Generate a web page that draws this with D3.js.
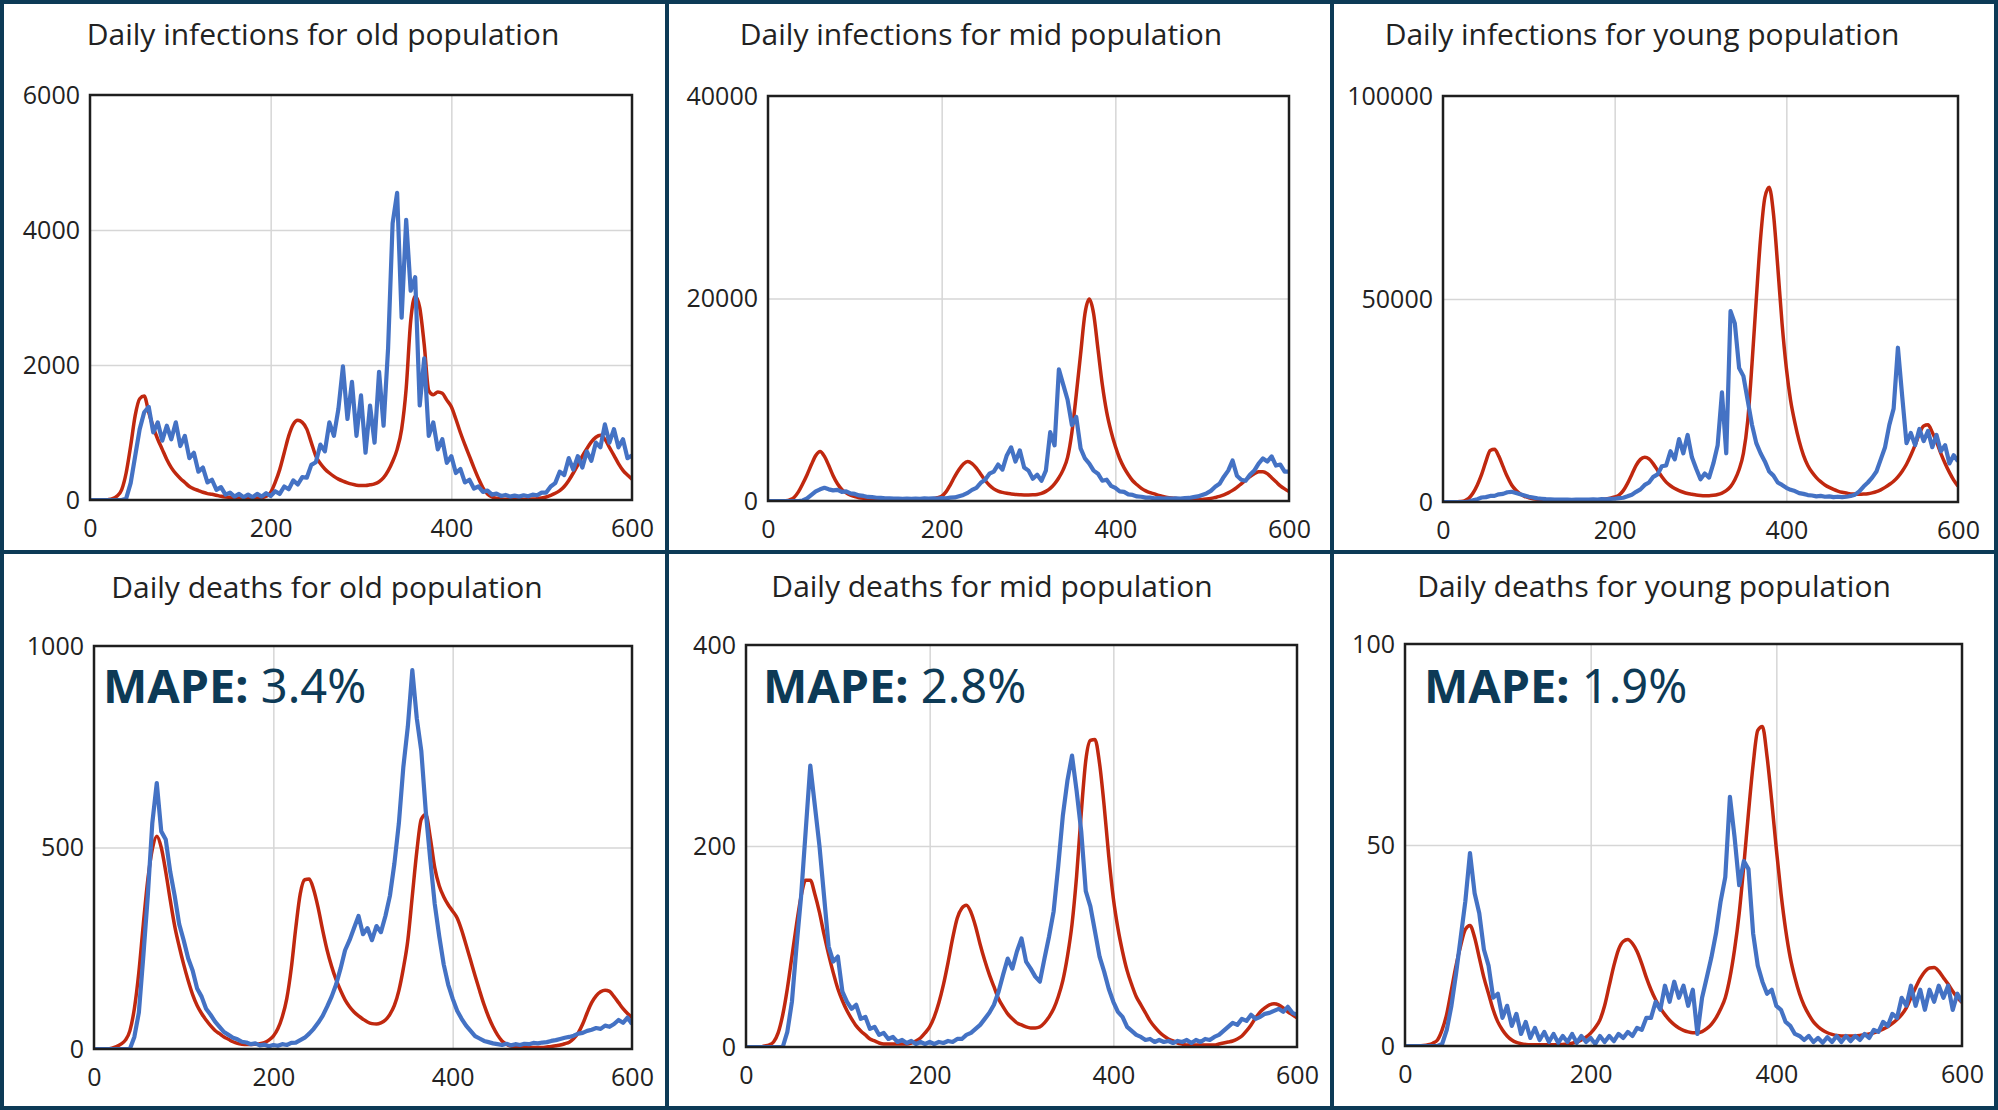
<!DOCTYPE html>
<html>
<head>
<meta charset="utf-8">
<script src="https://cdn.jsdelivr.net/npm/d3@7"></script>
<style>
  body { margin: 0; background: #fff; }
  svg { display: block; }
</style>
</head>
<body>
<svg id="chart" width="1998" height="1110"></svg>
<script>
// one value every 5 days, day 0 to day 600
var dayStep = 5;
var xTicks = [0, 200, 400, 600];

var titles = [
  "Daily infections for old population",
  "Daily infections for mid population",
  "Daily infections for young population",
  "Daily deaths for old population",
  "Daily deaths for mid population",
  "Daily deaths for young population"
];
var yMaxes = [6000, 40000, 100000, 1000, 400, 100];
var yTicks = [
  [0, 2000, 4000, 6000],
  [0, 20000, 40000],
  [0, 50000, 100000],
  [0, 500, 1000],
  [0, 200, 400],
  [0, 50, 100]
];
var mapeValues = [null, null, null, "3.4%", "2.8%", "1.9%"];

// model (red) and observed (blue) series
var modelOldInf = [
  0, 0, 0, 0, 5, 20, 60, 150, 400, 800,
  1250, 1500, 1540, 1300, 1080, 900, 750, 600, 480, 390,
  320, 260, 200, 165, 140, 115, 95, 85, 70, 55,
  45, 40, 35, 30, 30, 30, 30, 30, 35, 55,
  110, 260, 450, 700, 950, 1120, 1180, 1150, 1050, 850,
  650, 540, 460, 400, 350, 310, 280, 255, 235, 220,
  215, 215, 225, 240, 270, 330, 430, 570, 750, 1050,
  1650, 2650, 3020, 2850, 2300, 1620, 1560, 1600, 1580, 1480,
  1380, 1200, 1000, 820, 650, 480, 320, 180, 90, 45,
  25, 15, 10, 10, 10, 10, 10, 12, 15, 20,
  30, 45, 70, 100, 140, 200, 290, 400, 520, 650,
  760, 860, 930, 960, 900, 780, 660, 540, 440, 370,
  310
];
var dataOldInf = [
  0, 0, 0, 0, 0, 0, 0, 0, 20, 250,
  650, 1050, 1300, 1380, 1000, 1150, 880, 1100, 900, 1150,
  800, 950, 620, 700, 420, 480, 260, 300, 150, 190,
  80, 110, 50, 90, 40, 80, 40, 90, 50, 100,
  60, 130, 90, 200, 160, 290, 230, 340, 330, 520,
  560, 820, 720, 1150, 950, 1350, 1980, 1200, 1750, 950,
  1550, 700, 1400, 850, 1900, 1100, 2250, 4100, 4550, 2700,
  4150, 3100, 3300, 1400, 2100, 950, 1150, 750, 900, 550,
  650, 400, 460, 260, 300, 170, 200, 120, 140, 80,
  95, 60, 75, 50, 65, 50, 70, 55, 80, 70,
  110, 110, 200, 250, 420, 370, 620, 450, 650, 480,
  720, 580, 850, 780, 1120, 850, 1050, 780, 900, 620,
  660
];
var modelMidInf = [
  0, 0, 0, 0, 30, 120, 350, 900, 1700, 2600,
  3600, 4500, 4900, 4400, 3500, 2500, 1700, 1150, 800, 580,
  430, 330, 260, 210, 170, 140, 120, 100, 90, 80,
  80, 80, 80, 80, 90, 100, 120, 160, 230, 330,
  480, 900, 1600, 2400, 3100, 3650, 3900, 3700, 3250, 2650,
  2050, 1550, 1200, 980, 850, 760, 700, 650, 620, 600,
  600, 610, 650, 750, 950, 1250, 1700, 2300, 3100, 4300,
  6800, 10500, 14500, 18500, 19950, 18500, 15000, 11500, 8800, 6900,
  5400, 4200, 3300, 2600, 2000, 1600, 1250, 1000, 820, 700,
  550, 450, 360, 300, 250, 200, 180, 160, 150, 150,
  160, 200, 260, 350, 450, 600, 800, 1050, 1350, 1700,
  2050, 2400, 2700, 2880, 2900, 2700, 2300, 1900, 1500, 1200,
  950
];
var dataMidInf = [
  0, 0, 0, 0, 0, 0, 0, 0, 50, 250,
  600, 950, 1150, 1300, 1150, 1050, 1100, 900, 950, 750,
  700, 550, 500, 400, 380, 320, 300, 260, 250, 230,
  240, 220, 230, 220, 240, 220, 250, 230, 260, 240,
  280, 270, 330, 350, 480, 600, 800, 1100, 1300, 1800,
  2100, 2700, 2900, 3600, 3100, 4500, 5300, 3900, 5000, 3300,
  3000, 2200, 2600, 2000, 3000, 6800, 5500, 13000, 11500, 10000,
  7500, 8300, 5200, 4200, 3700, 3000, 2700, 2000, 2100, 1500,
  1300, 950, 900, 650, 600, 450, 420, 330, 330, 270,
  280, 240, 260, 230, 260, 240, 290, 300, 380, 450,
  600, 750, 1000, 1400, 1700, 2400, 3000, 4000, 2500, 2100,
  2000, 2600, 3000, 3700, 4200, 3900, 4400, 3500, 3600, 2900,
  2900
];
var modelYoungInf = [
  0, 0, 0, 0, 100, 300, 900, 2200, 4200, 6800,
  10000, 12700, 13000, 11300, 8700, 6200, 4200, 2900, 2000, 1400,
  1050, 800, 650, 550, 500, 450, 420, 400, 400, 400,
  400, 400, 400, 400, 420, 450, 500, 600, 750, 950,
  1250, 1700, 2800, 4600, 6800, 9000, 10500, 11000, 10600, 9400,
  7800, 6200, 4900, 4000, 3300, 2800, 2400, 2100, 1900, 1700,
  1600, 1550, 1550, 1650, 1850, 2200, 2800, 3800, 5500, 8000,
  12000, 20000, 34000, 50000, 65000, 75000, 77500, 71000, 58000, 44000,
  33000, 25000, 19500, 15000, 11500, 9000, 7300, 6000, 5000, 4200,
  3600, 3100, 2700, 2400, 2200, 2000, 1950, 1900, 1950, 2050,
  2250, 2550, 3000, 3600, 4300, 5100, 6200, 7600, 9300, 11500,
  14000, 16800, 18700, 19000, 17200, 14800, 12000, 9500, 7300, 5400,
  3900
];
var dataYoungInf = [
  0, 0, 0, 0, 0, 0, 100, 400, 700, 1100,
  1200, 1500, 1500, 1900, 2000, 2400, 2500, 2200, 1900, 1600,
  1300, 1100, 900, 800, 700, 650, 600, 620, 580, 600,
  560, 600, 580, 620, 600, 650, 620, 700, 680, 750,
  800, 950, 1050, 1400, 1800, 2500, 3100, 4200, 4800, 6200,
  6800, 8800, 9000, 12500, 10500, 15500, 12000, 16500, 11000, 8200,
  5600, 7000, 6000, 9500, 14000, 27000, 12000, 47000, 44000, 33000,
  31000, 25000, 19000, 14500, 12000, 10000, 7500, 6500, 4800, 4200,
  3500, 3000, 2700, 2200, 2000, 1700, 1600, 1400, 1500, 1300,
  1400, 1200, 1300, 1200, 1300, 1500, 1800, 2600, 3800, 4800,
  6000, 7500, 10500, 13500, 19000, 23000, 38000, 26000, 14500, 17000,
  14000, 18000, 15000, 17500, 13500, 16500, 12500, 14000, 9500, 11500,
  10000
];
var modelOldDeath = [
  0, 0, 0, 0, 2, 6, 12, 22, 45, 100,
  190, 310, 420, 495, 528, 500, 440, 370, 305, 255,
  210, 170, 135, 108, 88, 72, 58, 46, 38, 30,
  24, 18, 14, 12, 11, 11, 12, 13, 16, 22,
  32, 50, 80, 125, 200, 300, 385, 420, 422, 395,
  350, 295, 245, 205, 172, 145, 122, 105, 92, 82,
  74, 67, 63, 62, 65, 72, 86, 108, 145, 200,
  270, 380, 490, 570, 582, 525, 450, 405, 378, 358,
  342, 325, 295, 258, 220, 182, 145, 110, 80, 55,
  35, 20, 12, 7, 5, 4, 4, 4, 4, 4,
  4, 5, 6, 8, 10, 13, 17, 26, 40, 62,
  90, 115, 132, 142, 146, 143, 130, 115, 100, 88,
  78
];
var dataOldDeath = [
  0, 0, 0, 0, 0, 0, 0, 0, 0, 30,
  90, 230, 380, 560, 660, 540, 520, 440, 380, 310,
  270, 225, 195, 150, 130, 100, 85, 68, 55, 42,
  35, 28, 24, 18, 16, 12, 14, 9, 11, 7,
  10, 8, 12, 10, 15, 16, 22, 28, 38, 50,
  65, 82, 105, 130, 160, 200, 245, 270, 300, 330,
  285, 300, 270, 305, 290, 330, 380, 460, 560, 700,
  800, 940, 820, 740, 590, 470, 360, 280, 210, 160,
  125, 95, 75, 58, 45, 32, 26, 20, 17, 14,
  12, 10, 13, 9, 12, 10, 13, 12, 15, 14,
  16, 17, 20, 22, 25, 28, 30, 33, 38, 40,
  45, 48, 52, 50, 58, 55, 62, 72, 65, 78,
  62
];
var modelMidDeath = [
  0, 0, 0, 0, 1, 2, 5, 14, 32, 58,
  90, 122, 150, 166, 166, 152, 134, 112, 92, 74,
  58, 46, 36, 28, 21, 16, 12, 8, 6, 4,
  3, 3, 3, 3, 3, 3, 4, 6, 9, 14,
  20, 30, 44, 62, 84, 108, 128, 138, 141, 134,
  120, 102, 86, 72, 60, 48, 40, 33, 28, 24,
  22, 20, 19, 19, 20, 24, 30, 38, 50, 66,
  90, 122, 170, 232, 285, 305, 306, 282, 240, 190,
  148, 118, 95, 76, 62, 50, 42, 34, 26, 20,
  15, 11, 8, 6, 4, 3, 2, 2, 2, 2,
  2, 2, 2, 3, 4, 5, 6, 8, 11, 16,
  22, 29, 35, 39, 42, 43, 42, 39, 35, 32,
  29
];
var dataMidDeath = [
  0, 0, 0, 0, 0, 0, 0, 0, 0, 15,
  45, 100, 150, 215, 280, 240, 200, 150, 100, 85,
  90, 55, 45, 38, 42, 28, 30, 18, 20, 12,
  14, 8, 10, 5, 7, 4, 6, 3, 5, 3,
  5, 3, 5, 4, 6, 5, 8, 8, 12, 14,
  18, 22, 28, 34, 42, 55, 72, 88, 78, 95,
  108, 85, 78, 70, 65, 88, 110, 135, 180, 230,
  265, 290, 255, 215, 155, 140, 115, 90, 75, 58,
  45, 35, 30, 20, 16, 12, 10, 7, 8, 5,
  7, 5, 6, 4, 6, 5, 7, 4, 7, 5,
  8, 7, 10, 12, 16, 20, 24, 22, 28, 26,
  32, 28, 30, 33, 34, 36, 38, 35, 40, 34,
  32
];
var modelYoungDeath = [
  0, 0, 0, 0, 0.1, 0.3, 0.7, 1.5, 4, 8,
  14, 20, 25, 29, 30, 27, 22, 17, 13, 9,
  6, 4, 2.5, 1.5, 0.9, 0.6, 0.4, 0.3, 0.3, 0.3,
  0.3, 0.3, 0.3, 0.3, 0.4, 0.5, 0.7, 1, 1.5, 2.2,
  3.2, 4.6, 6.5, 10, 15, 20, 24, 26, 26.5, 25.5,
  23.5, 20.5, 17, 14, 11.5, 9.5, 7.8, 6.4, 5.3, 4.5,
  3.9, 3.5, 3.3, 3.3, 3.6, 4.3, 5.4, 7, 9.2, 12,
  17, 24, 33, 45, 58, 70, 78.5, 79.5, 72, 61,
  49, 38, 29, 22, 17, 13, 10, 7.8, 6, 4.8,
  3.9, 3.3, 2.9, 2.6, 2.5, 2.5, 2.5, 2.5, 2.6, 2.8,
  3, 3.3, 3.7, 4.2, 4.8, 5.6, 6.6, 7.8, 9.5, 12,
  14.5, 16.8, 18.5, 19.4, 19.5, 18.6, 17, 15.4, 13.6, 12,
  10.8
];
var dataYoungDeath = [
  0, 0, 0, 0, 0, 0, 0, 0, 0.5, 4,
  10, 18, 27, 36, 48, 38, 33, 24, 20, 12,
  13, 7, 10, 5, 8, 3, 6, 2, 4.5, 1.5,
  3.5, 1, 3, 0.8, 2.5, 1, 3, 0.8, 2.5, 1,
  2, 0.5, 2.5, 1, 2.5, 1.2, 3, 2, 3.5, 2.5,
  4.5, 4, 7, 7, 11, 9, 15, 11, 16, 12,
  15, 10, 14, 3, 12, 17, 22, 28, 36, 42,
  62, 52, 40, 46, 44, 28, 20, 16, 13, 14,
  10, 9, 6, 5, 3, 2.5, 1.5, 2.5, 1, 2,
  0.8, 2.2, 1, 2.5, 1, 2.5, 1.2, 2.5, 1.5, 3,
  2, 4, 3.5, 6, 5, 8, 7, 12, 10, 15,
  10, 14, 9, 14, 11, 15, 12, 15, 9, 13,
  11
];

var models = [modelOldInf, modelMidInf, modelYoungInf, modelOldDeath, modelMidDeath, modelYoungDeath];
var observed = [dataOldInf, dataMidInf, dataYoungInf, dataOldDeath, dataMidDeath, dataYoungDeath];

// layout: plot frame [left, top, right, bottom], title centre, MAPE position
var panels = [
  { frame: [90, 95, 632, 500], titleX: 323, titleY: 45 },
  { frame: [768, 96, 1289, 501], titleX: 981, titleY: 45 },
  { frame: [1443, 96, 1958, 502], titleX: 1642, titleY: 45 },
  { frame: [94, 646, 632, 1049], titleX: 327, titleY: 598, mapeX: 103, mapeY: 703 },
  { frame: [746, 645, 1297, 1047], titleX: 992, titleY: 597, mapeX: 763, mapeY: 703 },
  { frame: [1405, 644, 1962, 1046], titleX: 1654, titleY: 597, mapeX: 1424, mapeY: 703 }
];

var navy = "#0d3a56";
var textColor = "#222";
var redColor = "#c0280f";
var blueColor = "#4472c4";

var svg = d3.select("#chart");

// outer border and dividers
svg.append("rect")
    .attr("x", 2)
    .attr("y", 2)
    .attr("width", 1994)
    .attr("height", 1106)
    .attr("fill", "#fff")
    .attr("stroke", navy)
    .attr("stroke-width", 4);

[[667, 2, 667, 1108], [1332, 2, 1332, 1108], [2, 552, 1996, 552]].forEach(l => {
  svg.append("line")
      .attr("x1", l[0]).attr("y1", l[1])
      .attr("x2", l[2]).attr("y2", l[3])
      .attr("stroke", navy)
      .attr("stroke-width", 4);
});

panels.forEach((p, i) => drawPanel(p, i));

function drawPanel(p, i) {
  var f = p.frame;
  var g = svg.append("g");

  // scales
  var xScale =
    d3.scaleLinear()
      .domain([0, 600])
      .range([f[0], f[2]]);

  var yScale =
    d3.scaleLinear()
      .domain([0, yMaxes[i]])
      .range([f[3], f[1]]);

  // gridlines
  g.append("g")
      .attr("transform", `translate(0, ${f[3]})`)
      .call(
        d3.axisBottom(xScale)
          .tickValues(xTicks.slice(1, -1))
          .tickSize(-(f[3] - f[1]))
          .tickFormat("")
      )
      .call(s => s.select(".domain").remove())
    .selectAll("line")
      .attr("stroke", "#d6d6d6")
      .attr("stroke-width", 1.5);

  g.append("g")
      .attr("transform", `translate(${f[0]}, 0)`)
      .call(
        d3.axisLeft(yScale)
          .tickValues(yTicks[i].slice(1, -1))
          .tickSize(-(f[2] - f[0]))
          .tickFormat("")
      )
      .call(s => s.select(".domain").remove())
    .selectAll("line")
      .attr("stroke", "#d6d6d6")
      .attr("stroke-width", 1.5);

  // series
  var clipId = "plot-clip-" + i;
  g.append("clipPath")
      .attr("id", clipId)
    .append("rect")
      .attr("x", f[0])
      .attr("y", f[1])
      .attr("width", f[2] - f[0])
      .attr("height", f[3] - f[1]);

  var line =
    d3.line()
      .x((d, j) => xScale(j * dayStep))
      .y(d => yScale(d));

  g.append("path")
      .datum(models[i])
      .attr("clip-path", `url(#${clipId})`)
      .attr("fill", "none")
      .attr("stroke", redColor)
      .attr("stroke-width", 3.5)
      .attr("stroke-linejoin", "round")
      .attr("d", line.curve(d3.curveMonotoneX));

  g.append("path")
      .datum(observed[i])
      .attr("clip-path", `url(#${clipId})`)
      .attr("fill", "none")
      .attr("stroke", blueColor)
      .attr("stroke-width", 4.2)
      .attr("stroke-linejoin", "round")
      .attr("d", line.curve(d3.curveLinear));

  // plot frame
  g.append("rect")
      .attr("x", f[0])
      .attr("y", f[1])
      .attr("width", f[2] - f[0])
      .attr("height", f[3] - f[1])
      .attr("fill", "none")
      .attr("stroke", "#1e1e1e")
      .attr("stroke-width", 2.5);

  // axis labels
  g.append("g")
      .attr("transform", `translate(0, ${f[3]})`)
      .call(
        d3.axisBottom(xScale)
          .tickValues(xTicks)
          .tickSize(0)
          .tickPadding(19)
          .tickFormat(d3.format("d"))
      )
      .call(s => s.select(".domain").remove())
      .attr("font-family", "'Open Sans', sans-serif")
      .attr("font-size", 25)
    .selectAll("text")
      .attr("fill", textColor);

  g.append("g")
      .attr("transform", `translate(${f[0]}, 0)`)
      .call(
        d3.axisLeft(yScale)
          .tickValues(yTicks[i])
          .tickSize(0)
          .tickPadding(10)
          .tickFormat(d3.format("d"))
      )
      .call(s => s.select(".domain").remove())
      .attr("font-family", "'Open Sans', sans-serif")
      .attr("font-size", 25)
    .selectAll("text")
      .attr("fill", textColor);

  // title
  g.append("text")
      .text(titles[i])
      .attr("x", p.titleX)
      .attr("y", p.titleY)
      .attr("text-anchor", "middle")
      .attr("font-family", "'Open Sans', sans-serif")
      .attr("font-size", 30)
      .attr("fill", textColor);

  // MAPE annotation
  if (mapeValues[i]) {
    var mape =
      g.append("text")
        .attr("x", p.mapeX)
        .attr("y", p.mapeY)
        .attr("font-family", "'Noto Sans', sans-serif")
        .attr("font-size", 47)
        .attr("fill", navy);

    mape.append("tspan")
        .attr("font-weight", "bold")
        .text("MAPE:");

    mape.append("tspan")
        .text(" " + mapeValues[i]);
  }
}
</script>
</body>
</html>
